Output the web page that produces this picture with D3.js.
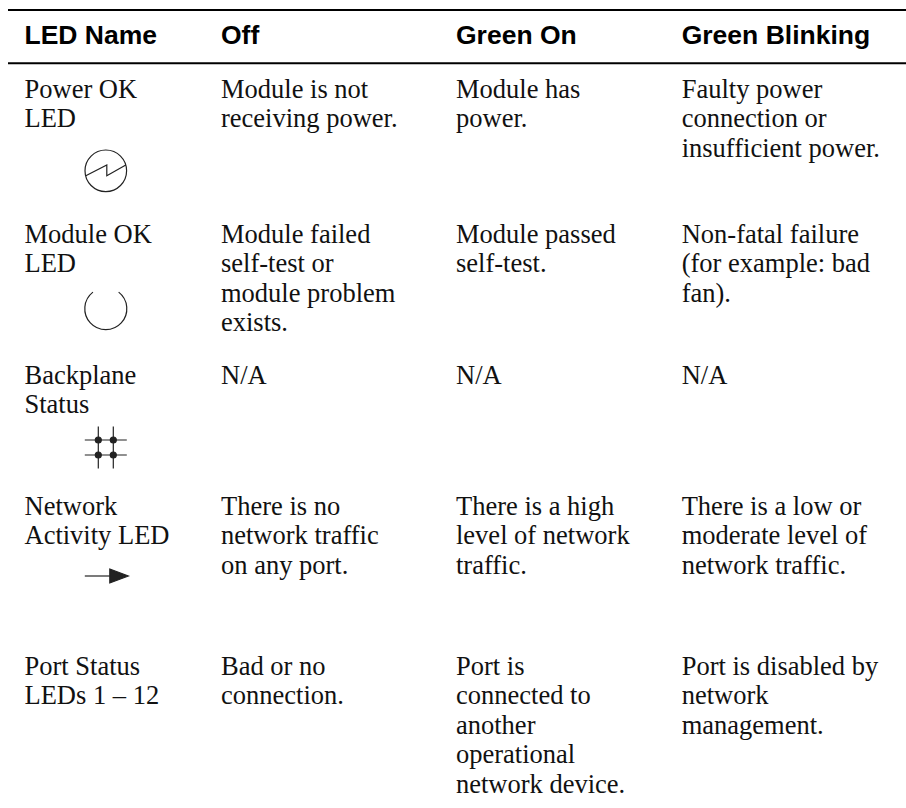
<!DOCTYPE html>
<html>
<head>
<meta charset="utf-8">
<script src="https://cdn.jsdelivr.net/npm/d3@7"></script>
<style>
  html, body { margin: 0; padding: 0; background: #fff; }
  svg { display: block; }
</style>
</head>
<body>
<div id="chart"></div>
<script>
const columns = ["LED Name", "Off", "Green On", "Green Blinking"];

const led_names = [
  ["Power OK", "LED"],
  ["Module OK", "LED"],
  ["Backplane", "Status"],
  ["Network", "Activity LED"],
  ["Port Status", "LEDs 1 – 12"],
];
const off_text = [
  ["Module is not", "receiving power."],
  ["Module failed", "self-test or", "module problem", "exists."],
  ["N/A"],
  ["There is no", "network traffic", "on any port."],
  ["Bad or no", "connection."],
];
const green_on_text = [
  ["Module has", "power."],
  ["Module passed", "self-test."],
  ["N/A"],
  ["There is a high", "level of network", "traffic."],
  ["Port is", "connected to", "another", "operational", "network device."],
];
const green_blinking_text = [
  ["Faulty power", "connection or", "insufficient power."],
  ["Non-fatal failure", "(for example: bad", "fan)."],
  ["N/A"],
  ["There is a low or", "moderate level of", "network traffic."],
  ["Port is disabled by", "network", "management."],
];
const row_icons = ["power", "module", "backplane", "network", null];
const row_first_baseline = [97.7, 242.7, 384, 514.6, 675];
const row_icon_center = [170.8, 308.7, 447.5, 576, null];

const width = 906;
const height = 808;
const settings = {
  rule_left: 8,
  rule_right: 906,
  rule_top: 10,
  rule_header: 63.3,
  header_baseline: 43.5,
  line_height: 29.45,
  font_size: 26.5,
  icon_x: 105.8,
};

const svg = d3
  .select("#chart")
  .append("svg")
  .attr("width", width)
  .attr("height", height);

const X = d3
  .scaleOrdinal()
  .domain(columns)
  .range([24.5, 221, 456, 681.7]);

const Y = d3
  .scaleOrdinal()
  .domain(d3.range(led_names.length))
  .range(row_first_baseline);

// header rules
svg
  .selectAll("line.rule")
  .data([settings.rule_top, settings.rule_header])
  .enter()
  .append("line")
  .classed("rule", true)
  .attr("x1", settings.rule_left)
  .attr("x2", settings.rule_right)
  .attr("y1", (d) => d)
  .attr("y2", (d) => d)
  .attr("stroke", "#000")
  .attr("stroke-width", 2);

svg
  .selectAll("text.header")
  .data(columns)
  .enter()
  .append("text")
  .classed("header", true)
  .attr("x", (d) => X(d))
  .attr("y", settings.header_baseline)
  .attr("font-family", "'Liberation Sans', sans-serif")
  .attr("font-weight", "bold")
  .attr("font-size", settings.font_size)
  .attr("fill", "#000")
  .text((d) => d);

const column_texts = [led_names, off_text, green_on_text, green_blinking_text];

column_texts.forEach((rows, col_i) => {
  rows.forEach((lines, row_i) => {
    svg
      .append("g")
      .selectAll("text")
      .data(lines)
      .enter()
      .append("text")
      .attr("x", X(columns[col_i]))
      .attr("y", (d, i) => Y(row_i) + i * settings.line_height)
      .attr("font-family", "'Liberation Serif', serif")
      .attr("font-size", settings.font_size)
      .attr("fill", "#111")
      .text((d) => d);
  });
});

// small symbols below the LED names, drawn around their own centre
const icon_draw = {
  power(g) {
    g.append("circle").attr("r", 20.8);
    g.append("path").attr("d", "M-20,5 L1,-5.8 V5 L20,-5.8");
  },
  module(g) {
    g.append("path").attr(
      "d",
      d3.arc()({
        innerRadius: 21,
        outerRadius: 21,
        startAngle: Math.PI * 0.21,
        endAngle: Math.PI * 1.79,
      })
    );
  },
  backplane(g) {
    const offsets = [-7.5, 7.5];
    offsets.forEach((o) => {
      g.append("line").attr("x1", -21).attr("x2", 21).attr("y1", o).attr("y2", o);
      g.append("line").attr("y1", -21).attr("y2", 21).attr("x1", o).attr("x2", o);
      offsets.forEach((p) => {
        g.append("circle")
          .attr("cx", o)
          .attr("cy", p)
          .attr("r", 3)
          .attr("fill", "#222");
      });
    });
  },
  network(g) {
    g.append("line").attr("x1", -21).attr("x2", 4);
    g.append("path").attr("d", "M4,-7 L22.5,0 L4,7 Z").attr("fill", "#222");
  },
};

row_icons.forEach((icon, row_i) => {
  if (!icon) return;
  const icon_g = svg
    .append("g")
    .attr(
      "transform",
      `translate(${settings.icon_x}, ${row_icon_center[row_i]})`
    )
    .attr("fill", "none")
    .attr("stroke", "#222")
    .attr("stroke-width", 1.2);
  icon_draw[icon](icon_g);
});
</script>
</body>
</html>
